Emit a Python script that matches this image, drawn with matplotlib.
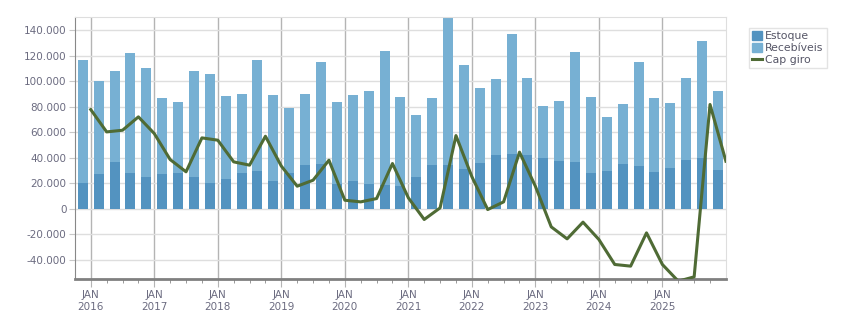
import numpy as np
import matplotlib
matplotlib.use('Agg')
import matplotlib.pyplot as plt
from matplotlib.ticker import FuncFormatter, MultipleLocator, FixedLocator
from matplotlib.lines import Line2D
from matplotlib.patches import Patch

# Dados trimestrais, JAN 2016 ate JAN 2026
anos = list(range(2016, 2026))
estoque = [20400, 26900, 36100, 28200, 24600, 26900, 28200, 24600, 20400, 23500,
           28200, 29800, 21200, 28200, 34500, 35300, 19400, 21200, 19100, 18300,
           17500, 24600, 34000, 34000, 30800, 35600, 41600, 43100, 42300, 40000,
           37600, 36100, 28200, 29800, 35300, 33700, 29000, 31400, 38400, 40000,
           30600]
total = [116800, 100400, 108200, 121800, 110600, 87000, 83900, 108200, 105900, 88600,
         90200, 116800, 89400, 79200, 90200, 115300, 83900, 89400, 91800, 123900,
         87800, 73700, 86300, 149800, 112900, 94900, 101900, 137200, 102700, 80800,
         84700, 123100, 87800, 72100, 82300, 115300, 87000, 83100, 102700, 131700,
         92500]
cap_giro = [77600, 60100, 61400, 71900, 58800, 38400, 28800, 55400, 53600, 36600,
            34000, 56700, 33300, 17500, 22200, 37900, 6500, 5200, 7800, 35300,
            8400, -8600, 500, 57200, 25000, -800, 5200, 44200, 17500, -14400,
            -23800, -10700, -24300, -43900, -45200, -19100, -43900, -57000, -53600, 81600,
            37100]

recebiveis = [t - e for t, e in zip(total, estoque)]

cor_est = '#5393c0'
cor_rec = '#77b0d3'
cor_linha = '#4f6b35'
cor_texto = '#6b6b80'

fig = plt.figure(figsize=(8.51, 3.13), dpi=100)
ax = fig.add_axes([0.088, 0.109, 0.765, 0.837])

n = len(total)
x_barras = np.arange(n)
x_linha = np.arange(n) + 0.5

ax.bar(x_barras, estoque, width=0.63, color=cor_est, zorder=2)
ax.bar(x_barras, recebiveis, width=0.63, bottom=estoque, color=cor_rec, zorder=2)
ax.plot(x_linha, cap_giro, color=cor_linha, lw=2.2, zorder=3)

ax.set_xlim(-0.5, n - 0.5)
ax.set_ylim(-55200, 150300)

ax.yaxis.set_major_locator(MultipleLocator(20000))
ax.yaxis.set_major_formatter(FuncFormatter(lambda v, p: f'{int(v):,}'.replace(',', '.')))

pos_anos = [0.5 + 4 * k for k in range(len(anos))]
ax.xaxis.set_major_locator(FixedLocator(pos_anos))
ax.set_xticklabels([f'JAN\n{a}' for a in anos])
ax.xaxis.set_minor_locator(FixedLocator([0.5 + k for k in range(n) if k % 4 != 0]))

ax.grid(axis='y', color='#dedede', lw=1, zorder=0)
ax.grid(axis='x', which='major', color='#b4b4b4', lw=1, zorder=1)

ax.tick_params(axis='y', length=4, color='#c8c8c8', labelsize=7.5, labelcolor=cor_texto, pad=2)
ax.tick_params(axis='x', which='major', length=6, color='#b4b4b4', labelsize=7.5,
               labelcolor=cor_texto, pad=2)
ax.tick_params(axis='x', which='minor', length=3, color='#888888')

for lado in ['top', 'right']:
    ax.spines[lado].set_color('#dedede')
ax.spines['left'].set_color('#888888')
ax.spines['bottom'].set_color('#808080')
ax.spines['bottom'].set_linewidth(2)

legenda = [Patch(color=cor_est, label='Estoque'),
           Patch(color=cor_rec, label='Recebíveis'),
           Line2D([0], [0], color=cor_linha, lw=2.2, label='Cap giro')]
leg = fig.legend(handles=legenda, loc='upper left', bbox_to_anchor=(0.88, 0.912),
                 fontsize=7.8, frameon=True, fancybox=False, borderpad=0.3,
                 handlelength=0.9, handleheight=0.9, handletextpad=0.3,
                 labelspacing=0.15, borderaxespad=0)
leg.get_frame().set_edgecolor('#dcdcdc')
leg.get_frame().set_linewidth(1)
for t in leg.get_texts():
    t.set_color('#555566')

fig.savefig('out.png', dpi=100)
